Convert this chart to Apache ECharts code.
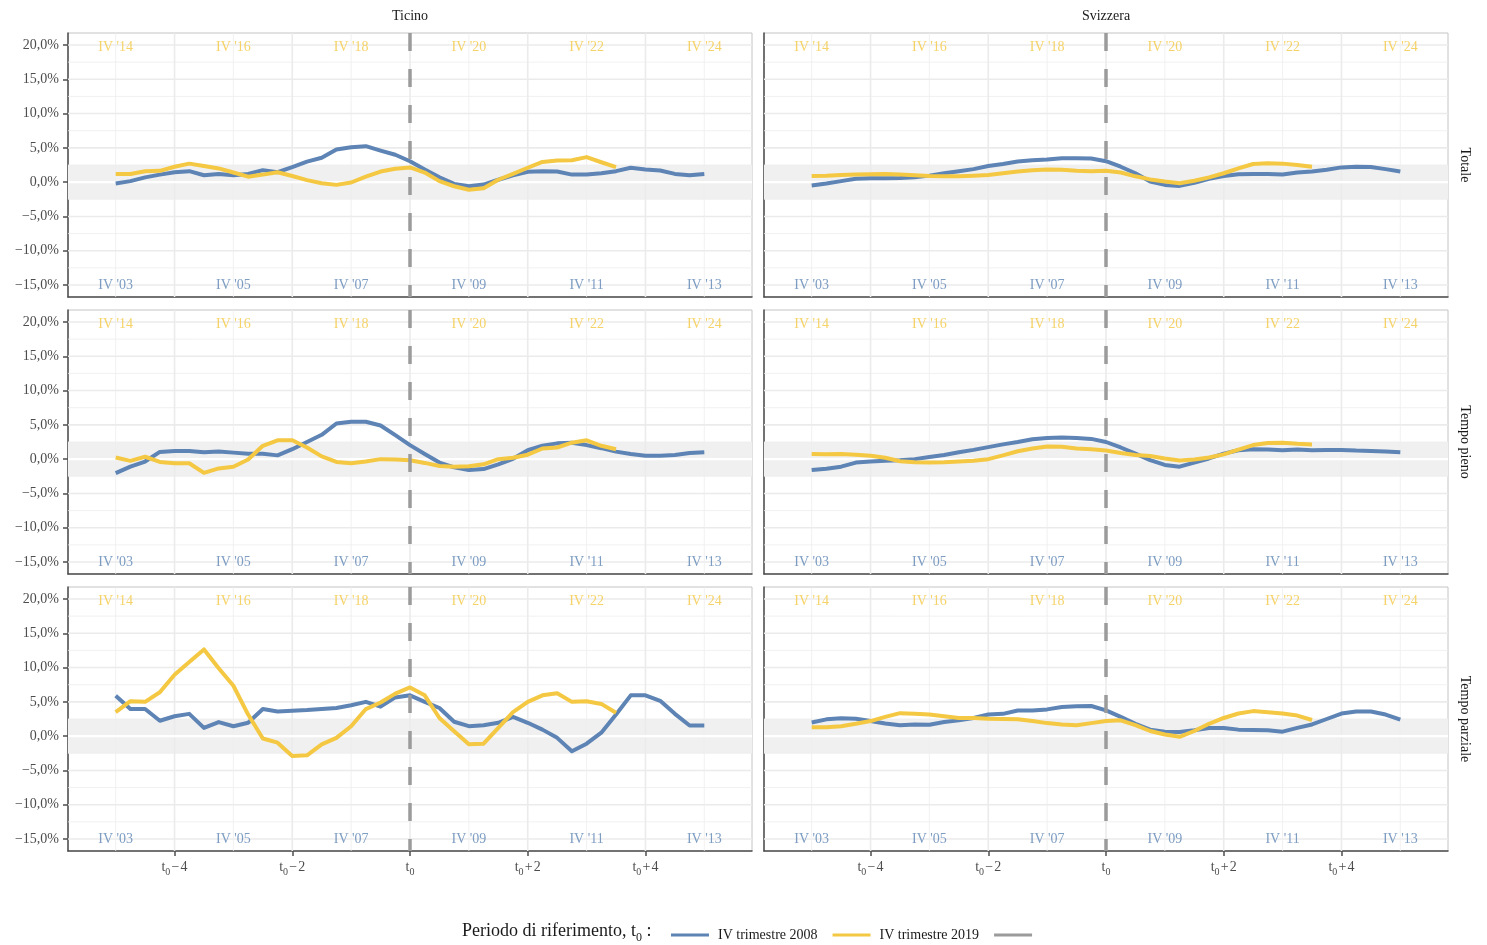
<!DOCTYPE html>
<html><head><meta charset="utf-8">
<script src="https://cdn.jsdelivr.net/npm/echarts@6/dist/echarts.min.js"></script>
<style>html,body{margin:0;padding:0;background:#fff}#c{width:1487px;height:945px}</style>
</head><body><div id="c"></div><script>
const regions = ['Ticino', 'Svizzera'];
const measures = ['Totale', 'Tempo pieno', 'Tempo parziale'];
const seriesNames = ['IV trimestre 2008', 'IV trimestre 2019'];
const yTicks = [-15, -10, -5, 0, 5, 10, 15, 20];
const yMinor = [-12.5, -7.5, -2.5, 2.5, 7.5, 12.5, 17.5];
const xTicks = [-4, -2, 0, 2, 4];
const xMinor = [-5, -3, -1, 1, 3, 5];
const labelYears = [-5, -3, -1, 1, 3, 5];
const topLabels = ["IV '14", "IV '16", "IV '18", "IV '20", "IV '22", "IV '24"];
const bottomLabels = ["IV '03", "IV '05", "IV '07", "IV '09", "IV '11", "IV '13"];

// quarterly values, first point = t0 - 5 years
const ticino_totale_2008 = [-0.2,0.15,0.7,1.1,1.45,1.6,1.0,1.2,1.0,1.2,1.75,1.45,2.2,3.0,3.55,4.75,5.1,5.25,4.6,4.0,3.05,1.85,0.7,-0.25,-0.6,-0.35,0.35,1.0,1.5,1.6,1.55,1.1,1.1,1.3,1.6,2.1,1.85,1.7,1.2,1.0,1.2];
const ticino_totale_2019 = [1.2,1.2,1.6,1.65,2.25,2.7,2.35,2.0,1.4,0.8,1.1,1.45,0.9,0.3,-0.15,-0.4,-0.05,0.8,1.55,1.95,2.15,1.4,0.15,-0.6,-1.1,-0.9,0.35,1.2,2.1,2.95,3.15,3.2,3.65,2.9,2.2];
const ticino_pieno_2008 = [-2.05,-1.1,-0.35,1.05,1.2,1.2,1.0,1.1,0.95,0.8,0.8,0.55,1.45,2.5,3.55,5.2,5.45,5.45,4.9,3.5,2.05,0.75,-0.5,-1.2,-1.6,-1.45,-0.75,0.05,1.3,1.95,2.3,2.4,2.05,1.6,1.1,0.75,0.5,0.5,0.6,0.9,1.0];
const ticino_pieno_2019 = [0.25,-0.25,0.35,-0.4,-0.6,-0.6,-2.0,-1.35,-1.1,-0.05,1.95,2.75,2.75,1.7,0.4,-0.4,-0.6,-0.35,0,-0.05,-0.15,-0.55,-1.0,-1.1,-1.05,-0.75,0,0.2,0.65,1.55,1.7,2.4,2.75,1.95,1.45];
const ticino_parziale_2008 = [5.9,3.95,3.95,2.25,2.9,3.25,1.2,2.05,1.45,1.95,3.95,3.6,3.7,3.8,3.95,4.1,4.5,5.0,4.3,5.65,5.95,5.0,4.1,2.1,1.45,1.6,1.95,2.8,1.95,0.95,-0.25,-2.2,-1.1,0.5,3.15,5.95,5.95,5.15,3.25,1.55,1.55];
const ticino_parziale_2019 = [3.5,5.1,5.0,6.4,8.95,10.8,12.65,9.9,7.35,3.15,-0.35,-0.95,-2.9,-2.8,-1.2,-0.25,1.45,3.95,4.9,6.2,7.1,5.95,2.65,0.7,-1.2,-1.1,1.2,3.5,5.0,5.95,6.25,5.0,5.1,4.7,3.4];
const svizzera_totale_2008 = [-0.5,-0.2,0.15,0.5,0.55,0.55,0.6,0.7,0.95,1.3,1.6,1.9,2.35,2.65,3.0,3.2,3.3,3.5,3.5,3.45,3.05,2.25,1.3,0.1,-0.4,-0.55,-0.1,0.5,0.9,1.15,1.2,1.2,1.1,1.4,1.55,1.8,2.15,2.25,2.2,1.9,1.55];
const svizzera_totale_2019 = [0.9,0.95,1.05,1.1,1.15,1.2,1.1,1.0,0.9,0.85,0.85,0.95,1.05,1.3,1.55,1.75,1.85,1.8,1.65,1.6,1.65,1.4,0.85,0.4,0.1,-0.15,0.2,0.7,1.3,2.0,2.65,2.75,2.7,2.5,2.25];
const svizzera_pieno_2008 = [-1.6,-1.4,-1.1,-0.5,-0.35,-0.25,-0.15,0,0.3,0.6,1.0,1.35,1.75,2.15,2.5,2.9,3.1,3.15,3.1,2.95,2.5,1.7,0.8,-0.15,-0.85,-1.1,-0.5,0.1,0.8,1.3,1.45,1.4,1.3,1.4,1.3,1.35,1.35,1.25,1.2,1.1,1.0];
const svizzera_pieno_2019 = [0.75,0.7,0.75,0.65,0.5,0.2,-0.3,-0.45,-0.5,-0.45,-0.35,-0.25,0,0.55,1.15,1.55,1.85,1.8,1.55,1.45,1.25,0.9,0.6,0.45,0.1,-0.2,-0.05,0.25,0.7,1.4,2.05,2.35,2.4,2.25,2.15];
const svizzera_parziale_2008 = [2.0,2.45,2.6,2.55,2.2,1.85,1.6,1.7,1.65,2.05,2.3,2.65,3.15,3.25,3.75,3.75,3.9,4.25,4.35,4.4,3.75,2.8,1.8,0.95,0.65,0.6,0.85,1.2,1.2,0.95,0.9,0.85,0.65,1.2,1.7,2.5,3.3,3.6,3.6,3.15,2.4];
const svizzera_parziale_2019 = [1.3,1.3,1.45,1.8,2.2,2.8,3.35,3.25,3.15,2.9,2.65,2.65,2.55,2.5,2.45,2.2,1.9,1.7,1.6,1.9,2.2,2.3,1.6,0.75,0.25,-0.1,0.75,1.8,2.65,3.3,3.65,3.5,3.3,3.0,2.35];

const panelData = [
  [[ticino_totale_2008, ticino_totale_2019], [svizzera_totale_2008, svizzera_totale_2019]],
  [[ticino_pieno_2008, ticino_pieno_2019], [svizzera_pieno_2008, svizzera_pieno_2019]],
  [[ticino_parziale_2008, ticino_parziale_2019], [svizzera_parziale_2008, svizzera_parziale_2019]]
];

const FONT = 'Liberation Serif';
const BLUE = '#5d84b4', YELLOW = '#f4c842', DASH = '#9b9b9b';
const XMIN = -5.81, XMAX = 5.81, YMIN = -16.75, YMAX = 21.75;
const colLeft = [68, 764], panelW = 684;
const rowTop = [33, 310, 587], panelH = 264;

const toXY = arr => arr.map((v, k) => [-5 + k / 4, v]);

function bgRender(params, api) {
  const cs = params.coordSys;
  const ch = [];
  const yT = api.coord([0, 2.5])[1], yB = api.coord([0, -2.5])[1];
  ch.push({type: 'rect', shape: {x: cs.x, y: yT, width: cs.width, height: yB - yT}, style: {fill: '#f0f0f0'}});
  yMinor.forEach(v => { const y = api.coord([0, v])[1];
    ch.push({type: 'line', shape: {x1: cs.x, y1: y, x2: cs.x + cs.width, y2: y}, style: {stroke: '#eeeeee', lineWidth: 0.8}}); });
  yTicks.forEach(v => { if (v === 0) return; const y = api.coord([0, v])[1];
    ch.push({type: 'line', shape: {x1: cs.x, y1: y, x2: cs.x + cs.width, y2: y}, style: {stroke: '#ebebeb', lineWidth: 1.6}}); });
  xMinor.forEach(v => { const x = api.coord([v, 0])[0];
    ch.push({type: 'line', shape: {x1: x, y1: cs.y, x2: x, y2: cs.y + cs.height}, style: {stroke: '#eeeeee', lineWidth: 0.8}}); });
  xTicks.forEach(v => { const x = api.coord([v, 0])[0];
    ch.push({type: 'line', shape: {x1: x, y1: cs.y, x2: x, y2: cs.y + cs.height}, style: {stroke: '#ebebeb', lineWidth: 1.6}}); });
  const y0 = api.coord([0, 0])[1];
  ch.push({type: 'line', shape: {x1: cs.x, y1: y0, x2: cs.x + cs.width, y2: y0}, style: {stroke: '#ffffff', lineWidth: 2.2}});
  return {type: 'group', children: ch};
}

const grids = [], xAxes = [], yAxes = [], series = [];
const sub = {s: {fontSize: 10, lineHeight: 10, verticalAlign: 'bottom', fontFamily: FONT, color: '#4d4d4d'}};
for (let r = 0; r < 3; r++) {
  for (let c = 0; c < 2; c++) {
    const i = r * 2 + c;
    grids.push({left: colLeft[c], top: rowTop[r], width: panelW, height: panelH, show: true, borderColor: '#c4c4c4', borderWidth: 1, containLabel: false});
    const bottom = r === 2;
    xAxes.push({gridIndex: i, type: 'value', min: XMIN, max: XMAX,
      axisLine: {show: true, onZero: false, lineStyle: {color: '#4d4d4d', width: 1.5}},
      axisTick: {show: bottom, customValues: xTicks, length: 5, lineStyle: {color: '#4d4d4d', width: 1.5}},
      axisLabel: {show: bottom, customValues: xTicks, margin: 6, fontFamily: FONT, fontSize: 14, color: '#4d4d4d', lineHeight: 20, rich: sub,
        formatter: v => v === 0 ? 't{s|0}' : 't{s|0}\u200a' + (v < 0 ? '\u2212' : '+') + '\u200a' + Math.abs(v)},
      splitLine: {show: false}});
    yAxes.push({gridIndex: i, type: 'value', min: YMIN, max: YMAX,
      axisLine: {show: true, onZero: false, lineStyle: {color: '#4d4d4d', width: 1.5}},
      axisTick: {show: c === 0, customValues: yTicks, length: 5, lineStyle: {color: '#4d4d4d', width: 1.5}},
      axisLabel: {show: c === 0, customValues: yTicks, margin: 9, fontFamily: FONT, fontSize: 14, color: '#4d4d4d',
        formatter: v => (v < 0 ? '\u2212' : '') + Math.abs(v).toFixed(1).replace('.', ',') + '%'},
      splitLine: {show: false}});
    series.push({type: 'custom', xAxisIndex: i, yAxisIndex: i, silent: true, z: 1, renderItem: bgRender, data: [[0, 0]], animation: false});
    const [a, b] = panelData[r][c];
    [a, b].forEach((arr, j) => series.push({type: 'line', name: seriesNames[j], xAxisIndex: i, yAxisIndex: i, z: 3,
      data: toXY(arr), showSymbol: false, symbol: 'none', color: j === 0 ? BLUE : YELLOW,
      lineStyle: {width: 4, color: j === 0 ? BLUE : YELLOW, cap: 'butt', join: 'round'}, animation: false, silent: true}));
    series.push({type: 'line', name: '\u00a0', xAxisIndex: i, yAxisIndex: i, z: 4, color: DASH,
      data: [[0, YMAX], [0, YMIN]], showSymbol: false, symbol: 'none',
      lineStyle: {width: 3.5, color: DASH, type: [18, 18]}, animation: false, silent: true});
    series.push({type: 'scatter', xAxisIndex: i, yAxisIndex: i, z: 5, symbolSize: 1, silent: true, animation: false,
      itemStyle: {color: 'rgba(0,0,0,0)'},
      label: {show: true, position: 'inside', formatter: p => p.data.name, fontFamily: FONT, fontSize: 14},
      data: labelYears.map((x, j) => ({value: [x, 19.7], name: topLabels[j], label: {color: YELLOW}}))
        .concat(labelYears.map((x, j) => ({value: [x, -15], name: bottomLabels[j], label: {color: BLUE}})))});
  }
}

const graphic = [];
regions.forEach((t, c) => graphic.push({type: 'text', x: colLeft[c] + panelW / 2, y: 16,
  style: {text: t, fontFamily: FONT, fontSize: 14, fill: '#1a1a1a', textAlign: 'center', textVerticalAlign: 'middle'}}));
measures.forEach((t, r) => graphic.push({type: 'text', x: 1465, y: rowTop[r] + panelH / 2, rotation: -Math.PI / 2,
  style: {text: t, fontFamily: FONT, fontSize: 14, fill: '#1a1a1a', textAlign: 'center', textVerticalAlign: 'middle'}}));
graphic.push({type: 'text', x: 462, y: 931,
  style: {text: 'Periodo di riferimento, t{s|0} :', fontFamily: FONT, fontSize: 18, fill: '#1a1a1a', textVerticalAlign: 'middle',
    rich: {s: {fontSize: 12, lineHeight: 12, verticalAlign: 'bottom', fontFamily: FONT, fill: '#1a1a1a'}}, lineHeight: 25}});

const chart = echarts.init(document.getElementById('c'), null, {renderer: 'canvas'});
chart.setOption({
  backgroundColor: '#ffffff',
  animation: false,
  grid: grids, xAxis: xAxes, yAxis: yAxes, series: series, graphic: graphic,
  legend: {data: ['IV trimestre 2008', 'IV trimestre 2019', '\u00a0'], left: 666, top: 923, icon: 'rect',
    itemWidth: 38, itemHeight: 3, itemGap: 15, selectedMode: false,
    textStyle: {fontFamily: FONT, fontSize: 14, color: '#1a1a1a', padding: [0, 0, 0, 4]}}
});
</script></body></html>
